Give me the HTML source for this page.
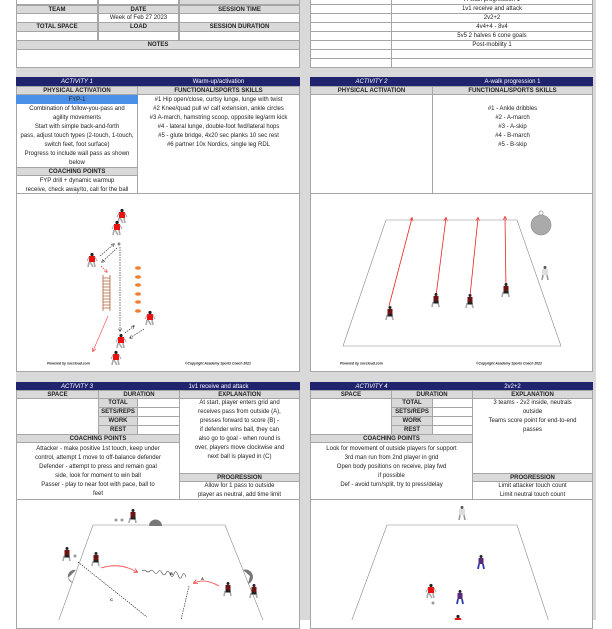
<!DOCTYPE html>
<html><head><meta charset="utf-8"><style>
*{margin:0;padding:0}
body{width:612px;height:620px;position:relative;overflow:hidden;background:#fff;font-family:"Liberation Sans",sans-serif}
.bg{position:absolute;left:16px;top:0;width:580px;height:620px;background:#d9d9d9}
.c{position:absolute;box-sizing:border-box;border:1px solid #a6a6a6;background:#fff;font-size:6px;text-align:center;line-height:8px;color:#222;overflow:hidden;white-space:nowrap}
.g{background:#d9d9d9;font-weight:bold;color:#222}
.h{background:#20246e;color:#fff;border-color:#20246e}
.i{font-style:italic}
.t{position:absolute;font-size:6px;line-height:9px;text-align:center;color:#222;white-space:nowrap}
svg{position:absolute;left:0;top:0}
</style></head><body>
<div class="bg"></div>
<!-- top left -->
<div class="c" style="left:16px;top:-5px;width:82px;height:10px"></div>
<div class="c" style="left:98px;top:-5px;width:81px;height:10px"></div>
<div class="c g" style="left:179px;top:-5px;width:121px;height:10px"></div>
<div class="c g" style="left:16px;top:5px;width:82px;height:9px">TEAM</div>
<div class="c g" style="left:98px;top:5px;width:81px;height:9px">DATE</div>
<div class="c g" style="left:179px;top:5px;width:121px;height:9px">SESSION TIME</div>
<div class="c" style="left:16px;top:13px;width:82px;height:10px"></div>
<div class="c" style="left:98px;top:13px;width:81px;height:10px">Week of Feb 27 2023</div>
<div class="c" style="left:179px;top:13px;width:121px;height:10px"></div>
<div class="c g" style="left:16px;top:22px;width:82px;height:10px">TOTAL SPACE</div>
<div class="c g" style="left:98px;top:22px;width:81px;height:10px">LOAD</div>
<div class="c g" style="left:179px;top:22px;width:121px;height:10px">SESSION DURATION</div>
<div class="c" style="left:16px;top:31px;width:82px;height:10px"></div>
<div class="c" style="left:98px;top:31px;width:81px;height:10px"></div>
<div class="c" style="left:179px;top:31px;width:121px;height:10px"></div>
<div class="c g" style="left:16px;top:40px;width:284px;height:10px">NOTES</div>
<div class="c" style="left:16px;top:49px;width:284px;height:19px"></div>
<!-- top right -->
<div class="c" style="left:310px;top:-5px;width:82px;height:10px"></div><div class="c" style="left:391px;top:-5px;width:202px;height:10px">A-walk progression 1</div>
<div class="c" style="left:310px;top:4px;width:82px;height:10px"></div><div class="c" style="left:391px;top:4px;width:202px;height:10px">1v1 receive and attack</div>
<div class="c" style="left:310px;top:13px;width:82px;height:10px"></div><div class="c" style="left:391px;top:13px;width:202px;height:10px">2v2+2</div>
<div class="c" style="left:310px;top:22px;width:82px;height:10px"></div><div class="c" style="left:391px;top:22px;width:202px;height:10px">4v4+4 - 8v4</div>
<div class="c" style="left:310px;top:31px;width:82px;height:10px"></div><div class="c" style="left:391px;top:31px;width:202px;height:10px">5v5 2 halves 6 cone goals</div>
<div class="c" style="left:310px;top:40px;width:82px;height:10px"></div><div class="c" style="left:391px;top:40px;width:202px;height:10px">Post-mobility 1</div>
<div class="c" style="left:310px;top:49px;width:82px;height:10px"></div><div class="c" style="left:391px;top:49px;width:202px;height:10px"></div>
<div class="c" style="left:310px;top:58px;width:82px;height:10px"></div><div class="c" style="left:391px;top:58px;width:202px;height:10px"></div>

<!-- Activity 1 -->
<div class="c h i" style="left:16px;top:77px;width:122px;height:9px">ACTIVITY 1</div>
<div class="c h" style="left:137px;top:77px;width:163px;height:9px">Warm-up/activation</div>
<div class="c g" style="left:16px;top:86px;width:122px;height:9px">PHYSICAL ACTIVATION</div>
<div class="c g" style="left:137px;top:86px;width:163px;height:9px">FUNCTIONAL/SPORTS SKILLS</div>
<div class="c" style="left:16px;top:94px;width:122px;height:100px"></div>
<div class="c" style="left:137px;top:94px;width:163px;height:100px"></div>
<div class="c" style="left:16px;top:95px;width:122px;height:9px;background:#4a8fe8;border-color:#4a8fe8">FYP-1</div>
<div class="t" style="left:16px;top:104.5px;width:122px">Combination of follow-you-pass and<br>agility movements<br>Start with simple back-and-forth<br>pass, adjust touch types (2-touch, 1-touch,<br>switch feet, foot surface)<br>Progress to include wall pass as shown<br>below</div>
<div class="c g" style="left:16px;top:167px;width:122px;height:9px">COACHING POINTS</div>
<div class="t" style="left:16px;top:176.5px;width:122px">FYP drill + dynamic warmup<br>receive, check away/to, call for the ball</div>
<div class="t" style="left:137px;top:95.5px;width:163px">#1 Hip open/close, curtsy lunge, lunge with twist<br>#2 Knee/quad pull w/ calf extension, ankle circles<br>#3 A-march, hamstring scoop, opposite leg/arm kick<br>#4 - lateral lunge, double-foot fwd/lateral hops<br>#5 - glute bridge, 4x20 sec planks 10 sec rest<br>#6 partner 10x Nordics, single leg RDL</div>
<div class="c" style="left:16px;top:193px;width:284px;height:179px"></div>

<!-- Activity 2 -->
<div class="c h i" style="left:310px;top:77px;width:123px;height:9px">ACTIVITY 2</div>
<div class="c h" style="left:432px;top:77px;width:161px;height:9px">A-walk progression 1</div>
<div class="c g" style="left:310px;top:86px;width:123px;height:9px">PHYSICAL ACTIVATION</div>
<div class="c g" style="left:432px;top:86px;width:161px;height:9px">FUNCTIONAL/SPORTS SKILLS</div>
<div class="c" style="left:310px;top:94px;width:123px;height:100px"></div>
<div class="c" style="left:432px;top:94px;width:161px;height:100px"></div>
<div class="t" style="left:432px;top:104.5px;width:161px">#1 - Ankle dribbles<br>#2 - A-march<br>#3 - A-skip<br>#4 - B-march<br>#5 - B-skip</div>
<div class="c" style="left:310px;top:193px;width:283px;height:179px"></div>

<!-- Activity 3 -->
<div class="c h i" style="left:16px;top:382px;width:122px;height:9px">ACTIVITY 3</div>
<div class="c h" style="left:137px;top:382px;width:163px;height:9px">1v1 receive and attack</div>
<div class="c g" style="left:16px;top:390px;width:83px;height:9px">SPACE</div>
<div class="c g" style="left:98px;top:390px;width:82px;height:9px">DURATION</div>
<div class="c g" style="left:179px;top:390px;width:121px;height:9px">EXPLANATION</div>
<div class="c" style="left:16px;top:398px;width:83px;height:37px"></div>
<div class="c g" style="left:98px;top:398px;width:40px;height:10px">TOTAL</div><div class="c" style="left:137px;top:398px;width:43px;height:10px"></div>
<div class="c g" style="left:98px;top:407px;width:40px;height:10px">SETS/REPS</div><div class="c" style="left:137px;top:407px;width:43px;height:10px"></div>
<div class="c g" style="left:98px;top:416px;width:40px;height:10px">WORK</div><div class="c" style="left:137px;top:416px;width:43px;height:10px"></div>
<div class="c g" style="left:98px;top:425px;width:40px;height:10px">REST</div><div class="c" style="left:137px;top:425px;width:43px;height:10px"></div>
<div class="c g" style="left:16px;top:434px;width:164px;height:9px">COACHING POINTS</div>
<div class="c" style="left:16px;top:442px;width:164px;height:58px"></div>
<div class="c" style="left:179px;top:398px;width:121px;height:76px"></div>
<div class="c g" style="left:179px;top:473px;width:121px;height:9px">PROGRESSION</div>
<div class="c" style="left:179px;top:481px;width:121px;height:19px"></div>
<div class="t" style="left:16px;top:444.5px;width:164px">Attacker - make positive 1st touch, keep under<br>control, attempt 1 move to off-balance defender<br>Defender - attempt to press and remain goal<br>side, look for moment to win ball<br>Passer - play to near foot with pace, ball to<br>feet</div>
<div class="t" style="left:179px;top:399px;width:121px">At start, player enters grid and<br>receives pass from outside (A),<br>presses forward to score (B) -<br>if defender wins ball, they can<br>also go to goal - when round is<br>over, players move clockwise and<br>next ball is played in (C)</div>
<div class="t" style="left:179px;top:482px;width:121px">Allow for 1 pass to outside<br>player as neutral, add time limit</div>
<div class="c" style="left:16px;top:499px;width:284px;height:130px"></div>

<!-- Activity 4 -->
<div class="c h i" style="left:310px;top:382px;width:123px;height:9px">ACTIVITY 4</div>
<div class="c h" style="left:432px;top:382px;width:161px;height:9px">2v2+2</div>
<div class="c g" style="left:310px;top:390px;width:82px;height:9px">SPACE</div>
<div class="c g" style="left:391px;top:390px;width:82px;height:9px">DURATION</div>
<div class="c g" style="left:472px;top:390px;width:121px;height:9px">EXPLANATION</div>
<div class="c" style="left:310px;top:398px;width:82px;height:37px"></div>
<div class="c g" style="left:391px;top:398px;width:42px;height:10px">TOTAL</div><div class="c" style="left:432px;top:398px;width:41px;height:10px"></div>
<div class="c g" style="left:391px;top:407px;width:42px;height:10px">SETS/REPS</div><div class="c" style="left:432px;top:407px;width:41px;height:10px"></div>
<div class="c g" style="left:391px;top:416px;width:42px;height:10px">WORK</div><div class="c" style="left:432px;top:416px;width:41px;height:10px"></div>
<div class="c g" style="left:391px;top:425px;width:42px;height:10px">REST</div><div class="c" style="left:432px;top:425px;width:41px;height:10px"></div>
<div class="c g" style="left:310px;top:434px;width:163px;height:9px">COACHING POINTS</div>
<div class="c" style="left:310px;top:442px;width:163px;height:58px"></div>
<div class="c" style="left:472px;top:398px;width:121px;height:76px"></div>
<div class="c g" style="left:472px;top:473px;width:121px;height:9px">PROGRESSION</div>
<div class="c" style="left:472px;top:481px;width:121px;height:19px"></div>
<div class="t" style="left:310px;top:444.5px;width:163px">Look for movement of outside players for support<br>3rd man run from 2nd player in grid<br>Open body positions on receive, play fwd<br>if possible<br>Def - avoid turn/split, try to press/delay</div>
<div class="t" style="left:472px;top:399px;width:121px">3 teams - 2v2 inside, neutrals<br>outside<br>Teams score point for end-to-end<br>passes</div>
<div class="t" style="left:472px;top:482px;width:121px">Limit attacker touch count<br>Limit neutral touch count</div>
<div class="c" style="left:310px;top:499px;width:283px;height:130px"></div>

<svg width="612" height="620" viewBox="0 0 612 620">
<defs>
<marker id="ab" markerWidth="5" markerHeight="5" refX="4" refY="2.5" orient="auto"><path d="M0,0L5,2.5L0,5" fill="none" stroke="#333" stroke-width="0.8"/></marker>
<marker id="ar" markerWidth="5" markerHeight="5" refX="4" refY="2.5" orient="auto"><path d="M0,0L5,2.5L0,5" fill="none" stroke="#e33" stroke-width="0.8"/></marker>
<g id="pr"><path d="M-3,2L-4,7M2,2L3,7M-2,2L1,7" stroke="#aaa" stroke-width="1.6"/><rect x="-3" y="-4" width="6" height="6" fill="#e11"/><circle cx="0" cy="-5.5" r="1.6" fill="#222"/><path d="M-5,1L-3,-3M5,1L3,-3" stroke="#aaa" stroke-width="1"/></g>
<g id="pd"><path d="M-3,2L-4,7M2,2L3,7" stroke="#aaa" stroke-width="1.6"/><rect x="-2.5" y="-4" width="5" height="6" fill="#6a1414"/><rect x="-2.5" y="1" width="5" height="2.5" fill="#222"/><circle cx="0" cy="-5.5" r="1.5" fill="#222"/></g>
<g id="pb"><path d="M-2,2L-3,7M2,2L3,7" stroke="#2a3aa8" stroke-width="1.8"/><rect x="-2.5" y="-4" width="5" height="6" fill="#5a2a7a"/><circle cx="0" cy="-5.5" r="1.5" fill="#222"/></g>
<g id="pw"><path d="M-2,2L-3,7M2,2L3,7" stroke="#999" stroke-width="1.6"/><rect x="-3" y="-4" width="6" height="6" fill="#ddd"/><circle cx="0" cy="-5.5" r="1.5" fill="#555"/></g>
</defs>
<!-- diagram 1 -->
<use href="#pr" x="122" y="216"/><use href="#pr" x="117" y="228"/><use href="#pr" x="92" y="260"/><use href="#pr" x="150" y="318"/><use href="#pr" x="121" y="341"/><use href="#pr" x="116" y="358"/>
<g fill="#f08030">
<ellipse cx="138" cy="268" rx="3" ry="1.8"/><ellipse cx="138" cy="277" rx="3" ry="1.8"/><ellipse cx="138" cy="285" rx="3" ry="1.8"/><ellipse cx="138" cy="294" rx="3" ry="1.8"/><ellipse cx="138" cy="302" rx="3" ry="1.8"/><ellipse cx="138" cy="311" rx="3" ry="1.8"/></g>
<g stroke="#b0603a" stroke-width="0.8"><line x1="103" y1="275" x2="103" y2="311"/><line x1="110" y1="275" x2="110" y2="311"/>
<path d="M103,278H110M103,281H110M103,284H110M103,287H110M103,290H110M103,293H110M103,296H110M103,299H110M103,302H110M103,305H110M103,308H110"/></g>
<circle cx="119" cy="244" r="1.5" fill="#888"/>
<g stroke="#333" stroke-width="0.7" stroke-dasharray="1.5,1" fill="none">
<line x1="100" y1="256" x2="114" y2="244" marker-end="url(#ab)"/><line x1="117" y1="248" x2="102" y2="262" marker-end="url(#ab)"/>
<line x1="120" y1="247" x2="120" y2="331" marker-end="url(#ab)"/>
<line x1="125" y1="333" x2="134" y2="326" marker-end="url(#ab)"/><line x1="144" y1="329" x2="130" y2="338" marker-end="url(#ab)"/></g>
<line x1="101" y1="266" x2="107" y2="272" stroke="#e33" stroke-width="0.7" stroke-dasharray="1.5,1" marker-end="url(#ar)"/>
<line x1="108" y1="316" x2="93" y2="351" stroke="#f66" stroke-width="0.8" marker-end="url(#ar)"/>
<g font-family="Liberation Sans" font-size="3.4" font-style="italic" font-weight="bold" fill="#222">
<text x="47" y="364.5">Powered by soccloud.com</text><text x="185" y="364.5">©Copyright Academy Sports Coach 2021</text>
<text x="340" y="364.5">Powered by soccloud.com</text><text x="476" y="364.5">©Copyright Academy Sports Coach 2022</text></g>
<!-- diagram 2 -->
<path d="M386,220H517L561,346H343Z" fill="none" stroke="#888" stroke-width="0.6"/>
<g stroke="#e22" stroke-width="0.8"><line x1="389" y1="306" x2="412" y2="218" marker-end="url(#ar)"/><line x1="436" y1="296" x2="446" y2="218" marker-end="url(#ar)"/><line x1="470" y1="296" x2="478" y2="218" marker-end="url(#ar)"/><line x1="506" y1="290" x2="505" y2="217" marker-end="url(#ar)"/></g>
<use href="#pd" x="390" y="313"/><use href="#pd" x="436" y="300"/><use href="#pd" x="470" y="301"/><use href="#pd" x="506" y="290"/><use href="#pw" x="545" y="273"/>
<circle cx="541" cy="225" r="10" fill="#aaa" stroke="#888" stroke-width="0.6"/><circle cx="541" cy="213" r="2" fill="none" stroke="#999" stroke-width="0.8"/>
<!-- diagram 3 -->
<path d="M93,525H225L265,625H57Z" fill="none" stroke="#888" stroke-width="0.6"/>
<path d="M149,526A6,6 0 0 1 162,526Z" fill="#777"/><path d="M76,570A6,6 0 0 0 73,583L68,578Z" fill="#777"/><path d="M243,570A6,6 0 0 1 248,584L250,576Z" fill="#777"/>
<use href="#pd" x="133" y="516"/><use href="#pd" x="67" y="554"/><use href="#pd" x="96" y="559"/><use href="#pd" x="228" y="589"/><use href="#pd" x="254" y="591"/>
<circle cx="116" cy="520" r="1.5" fill="#999"/><circle cx="122" cy="520" r="1.5" fill="#999"/><circle cx="75" cy="556" r="1.5" fill="#999"/>
<path d="M101,568Q120,562 137,572" fill="none" stroke="#f55" stroke-width="0.9" marker-end="url(#ar)"/>
<path d="M219,586Q205,578 194,583" fill="none" stroke="#f55" stroke-width="0.9" marker-end="url(#ar)"/>
<path d="M142,571q2,-2 4,0t4,0t4,1t4,0t4,1t4,0t4,1t4,0t4,1t4,1t4,1" fill="none" stroke="#444" stroke-width="0.6"/>
<g stroke="#333" stroke-width="0.7" stroke-dasharray="1.5,1" fill="none"><line x1="78" y1="562" x2="147" y2="617"/><line x1="189" y1="586" x2="181" y2="620"/></g>
<g font-family="Liberation Sans" font-size="4" font-weight="bold" fill="#222"><text x="170" y="575">B</text><text x="201" y="580">A</text><text x="110" y="601">C</text></g>
<!-- diagram 4 -->
<path d="M387,525H517L550,625H350Z" fill="none" stroke="#888" stroke-width="0.6"/>
<use href="#pw" x="462" y="513"/><use href="#pb" x="481" y="562"/><use href="#pr" x="431" y="591"/><use href="#pb" x="460" y="597"/><use href="#pr" x="458" y="622"/>
<circle cx="433" cy="603" r="1.5" fill="#999"/>
</svg>
</body></html>
